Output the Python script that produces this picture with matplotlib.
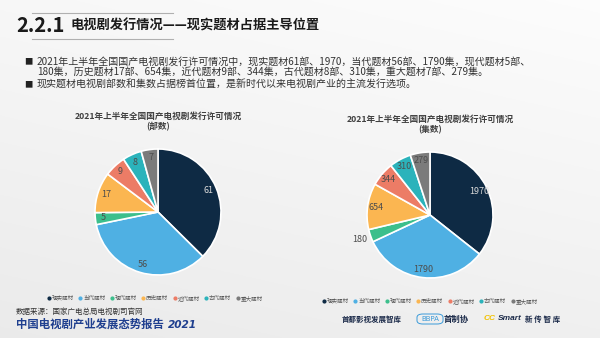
import matplotlib
matplotlib.use("Agg")
import matplotlib.pyplot as plt
import numpy as np
from matplotlib.lines import Line2D
from matplotlib.patches import FancyBboxPatch

plt.rcParams['font.family'] = ['Noto Sans CJK SC', 'DejaVu Sans']

categories = ['现实题材', '当代题材', '现代题材', '历史题材', '近代题材', '古代题材', '重大题材']
parts = [61, 56, 5, 17, 9, 8, 7]
episodes = [1970, 1790, 180, 654, 344, 310, 279]
colors = ['#0e2a44', '#4fb0e3', '#3cbf8c', '#fbb651', '#ec7c66', '#2bb3bb', '#7b7b7b']
label_colors = ['#d9d9d9', '#4d4d4d', '#4d4d4d', '#4d4d4d', '#4d4d4d', '#4d4d4d', '#4d4d4d']

W, H = 600, 338
fig = plt.figure(figsize=(6.0, 3.38), dpi=100)

# background gradient
bg = fig.add_axes([0, 0, 1, 1], zorder=-10)
yy = np.linspace(0, 1, 200)[:, None]
xx = np.linspace(0, 1, 300)[None, :]
grad = 0.99 - 0.05 * yy - 0.02 * (1 - xx)
bg.imshow(np.dstack([grad, grad, grad]), extent=[0, 1, 0, 1], aspect='auto', origin='upper')
bg.set_xlim(0, 1); bg.set_ylim(0, 1)
bg.axis('off')

def fx(px):
    return px / W

def fy(py):
    return 1 - py / H

# Header
fig.text(fx(16), fy(26), '2.2.1', fontsize=14.5, fontweight='bold', color='#1a1a1a', va='center', ha='left')
fig.text(fx(71), fy(26), '电视剧发行情况——现实题材占据主导位置', fontsize=9.5, fontweight='bold', color='#1a1a1a', va='center', ha='left')
fig.add_artist(Line2D([fx(32), fx(173)], [fy(13), fy(13)], color='#b0b0b0', lw=0.8))
fig.add_artist(Line2D([fx(32), fx(173)], [fy(38.5), fy(38.5)], color='#b0b0b0', lw=0.8))

body_col = '#333333'
fig.text(fx(24), fy(62), '■', fontsize=6, color='#222222', va='center', ha='left')
fig.text(fx(37), fy(62), '2021年上半年全国国产电视剧发行许可情况中，现实题材61部、1970，当代题材56部、1790集，现代题材5部、',
         fontsize=7.2, color=body_col, va='center', ha='left')
fig.text(fx(37), fy(72), '180集，历史题材17部、654集，近代题材9部、344集，古代题材8部、310集，重大题材7部、279集。',
         fontsize=7.2, color=body_col, va='center', ha='left')
fig.text(fx(24), fy(85), '■', fontsize=6, color='#222222', va='center', ha='left')
fig.text(fx(37), fy(85), '现实题材电视剧部数和集数占据榜首位置，是新时代以来电视剧产业的主流发行选项。',
         fontsize=7.2, color=body_col, va='center', ha='left')

# Pie charts
R = 63
span = 1.35

def draw_pie(cx, cy, values, title_y, title2, outside_idx=None):
    size = 2 * span * R
    ax = fig.add_axes([fx(cx - size / 2), (H - cy - size / 2) / H, size / W, size / H])
    total = sum(values)
    wedges, texts, autotexts = ax.pie(
        values, colors=colors, startangle=90, counterclock=False,
        autopct=lambda p: f"{int(round(p * total / 100))}", pctdistance=0.87,
        wedgeprops=dict(edgecolor='white', linewidth=1.2),
        textprops=dict(fontsize=6.5))
    for i, (w, t) in enumerate(zip(wedges, autotexts)):
        t.set_color(label_colors[i])
        if outside_idx is not None and i == outside_idx:
            ang = np.deg2rad((w.theta1 + w.theta2) / 2)
            t.set_position((1.18 * np.cos(ang), 1.18 * np.sin(ang)))
    ax.set_xlim(-span, span); ax.set_ylim(-span, span)
    ax.set_aspect('equal')
    fig.text(fx(cx), fy(title_y), '2021年上半年全国国产电视剧发行许可情况', fontsize=6.2,
             fontweight='bold', color='#404040', ha='center', va='center')
    fig.text(fx(cx), fy(title_y + 11), title2, fontsize=6.2,
             fontweight='bold', color='#404040', ha='center', va='center')
    return ax

draw_pie(158, 212, parts, 116, '(部数)')
draw_pie(430, 215, episodes, 119, '(集数)', outside_idx=2)

handles = [Line2D([0], [0], marker='o', color='none', markerfacecolor=c, markeredgecolor=c, markersize=2)
           for c in colors]
for cxp, cyp in [(155, 298), (430, 301)]:
    fig.legend(handles, categories, loc='center', bbox_to_anchor=(fx(cxp), fy(cyp)), ncol=7,
               fontsize=4, frameon=False, handlelength=0.5, handletextpad=0.3, columnspacing=0.9,
               labelcolor='#595959', borderpad=0)

# Footer
fig.text(fx(16), fy(312), '数据来源：国家广电总局电视剧司官网', fontsize=5.4, color='#333333', va='center', ha='left')
fig.text(fx(16), fy(324.5), '中国电视剧产业发展态势报告', fontsize=8.2, fontweight='bold', color='#1f3f8f', va='center', ha='left')
fig.text(fx(168), fy(324.5), '2021', fontsize=7.6, fontweight='bold', style='italic', color='#1f3f8f', va='center', ha='left', family='DejaVu Sans')

fig.text(fx(342), fy(319), '首都影视发展智库', fontsize=5.4, fontweight='bold', style='italic', color='#1c2b4a', va='center', ha='left')
box = FancyBboxPatch((fx(417), fy(324)), fx(26), 10 / H, boxstyle='round,pad=0,rounding_size=0.01',
                     transform=fig.transFigure, facecolor='none', edgecolor='#3a9ad9', lw=0.7)
fig.add_artist(box)
fig.text(fx(430), fy(319), 'BBPA', fontsize=5, color='#3a9ad9', va='center', ha='center', family='DejaVu Sans')
fig.text(fx(444), fy(319), '首制协', fontsize=6, fontweight='bold', color='#1c2b4a', va='center', ha='left')
fig.text(fx(484), fy(319), 'CC', fontsize=6, fontweight='bold', style='italic', color='#f2c200', va='center', ha='left', family='Liberation Sans')
fig.text(fx(498), fy(319), 'Smart', fontsize=6, fontweight='bold', style='italic', color='#1c2b4a', va='center', ha='left', family='Liberation Sans')
fig.text(fx(525), fy(319), '新 传 智 库', fontsize=5.4, fontweight='bold', color='#1c2b4a', va='center', ha='left')

fig.savefig('out.png', dpi=100)
